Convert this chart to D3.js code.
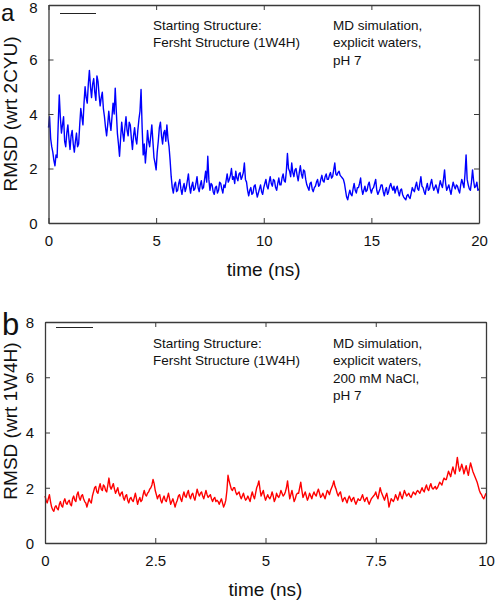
<!DOCTYPE html>
<html><head><meta charset="utf-8">
<script src="https://cdn.jsdelivr.net/npm/d3@7/dist/d3.min.js"></script>
<style>
body{margin:0;background:#fff;}
svg{display:block;font-family:"Liberation Sans",Arial,Helvetica,sans-serif;}
</style></head>
<body>
<svg id="chart" width="497" height="602"></svg>
<script>
// ---- data ----
const timeStepA = 0.05; // ns
const rmsdA = [
3.5,3.9,3.1,2.8,2.6,2.3,2.1,2.5,2.4,3.6,4.7,3.9,3.3,3.6,3.9,3.0,2.8,3.3,3.6,3.1,
2.7,3.2,3.4,2.9,2.6,3.0,3.3,2.8,2.9,3.6,4.2,3.9,3.6,4.4,5.0,4.6,4.4,5.1,5.6,5.0,
4.6,5.1,5.3,4.8,4.5,5.4,5.2,4.7,4.3,4.6,4.8,4.2,3.9,3.5,3.2,3.6,4.1,3.7,3.4,3.9,
4.4,4.0,4.95,4.1,3.3,2.9,2.45,3.1,3.7,3.3,3.0,3.5,3.9,3.4,3.2,3.7,3.6,3.1,2.7,3.2,
3.5,3.1,2.9,3.4,3.8,4.1,4.9,3.5,2.5,2.9,2.2,2.7,3.4,3.0,2.8,3.2,3.6,3.0,2.4,2.2,
1.95,2.6,3.0,3.5,3.7,3.2,2.9,3.3,3.4,3.0,3.6,3.1,2.8,2.3,1.7,1.3,1.1,1.4,1.5,1.15,
1.2,1.45,1.6,1.25,1.05,1.3,1.45,1.15,1.3,1.55,1.8,1.35,1.1,1.35,1.5,1.2,1.25,1.45,1.7,1.3,
1.15,1.4,1.55,1.25,1.3,1.6,1.9,1.5,2.45,1.6,1.2,1.45,1.4,1.15,1.05,1.3,1.35,1.1,1.2,1.5,
1.45,1.25,1.1,1.4,1.3,1.55,1.8,1.5,1.6,1.75,2.0,1.6,1.7,1.45,1.9,1.65,1.55,1.8,1.85,1.6,
1.7,1.85,2.2,1.6,1.5,1.2,1.0,1.2,1.3,1.05,1.1,1.35,1.4,1.15,0.95,1.1,1.25,1.4,1.15,1.05,
1.3,1.45,1.6,1.35,1.25,1.5,1.7,1.45,1.35,1.6,1.55,1.3,1.2,1.45,1.65,1.4,1.4,1.65,1.8,1.55,
1.5,1.9,2.55,2.0,1.9,1.7,2.2,1.85,1.7,1.95,2.0,1.75,1.55,1.85,2.1,1.8,1.65,1.95,1.9,1.6,
1.4,1.3,1.2,1.45,1.5,1.25,1.15,1.3,1.35,1.5,1.6,1.35,1.4,1.6,1.75,1.55,1.5,1.7,1.8,1.6,
1.6,1.75,1.85,1.65,1.7,1.95,2.2,1.8,1.75,1.85,1.9,1.75,1.7,1.65,1.6,1.45,1.2,0.95,0.85,1.05,
1.2,1.05,1.0,1.25,1.45,1.2,1.1,1.3,1.3,1.45,1.65,1.25,1.05,1.2,1.35,1.15,1.2,1.4,1.5,1.25,
1.1,1.25,1.3,1.45,1.6,1.2,1.05,1.15,1.25,1.4,1.4,1.15,1.0,1.2,1.3,1.05,1.15,1.35,1.45,1.3,
1.2,1.35,1.1,1.25,1.35,1.15,1.0,1.2,1.25,1.05,0.95,0.9,0.85,1.0,1.05,0.95,0.9,1.1,1.3,1.2,
1.15,1.35,1.5,1.25,1.2,1.45,1.7,1.35,1.3,1.15,1.05,1.3,1.45,1.2,1.25,1.45,1.6,1.35,1.2,1.3,
1.4,1.25,1.1,1.35,1.55,1.4,1.3,1.6,1.95,1.45,1.2,1.3,1.4,1.2,1.05,1.3,1.5,1.35,1.25,1.4,
1.35,1.2,1.1,1.4,1.6,1.45,1.3,1.8,2.5,1.6,1.4,1.25,1.2,1.5,1.95,1.55,1.3,1.35,1.5,1.2,
1.25];
const timeStepB = 0.025; // ns
const rmsdB = [
1.7,1.55,1.45,1.6,1.75,1.5,1.3,1.2,1.15,1.3,1.35,1.25,1.2,1.4,1.5,1.35,1.3,1.5,1.6,1.45,
1.4,1.5,1.55,1.4,1.35,1.6,1.7,1.55,1.5,1.75,1.85,1.65,1.55,1.7,1.75,1.6,1.5,1.45,1.3,1.45,
1.6,1.5,1.45,1.7,1.85,2.0,2.05,1.85,1.8,2.0,2.15,1.95,1.9,2.1,2.05,1.9,1.85,2.1,2.35,2.05,
1.95,2.05,2.15,1.95,1.8,1.9,2.0,1.8,1.7,1.8,1.85,1.65,1.55,1.7,1.75,1.55,1.45,1.6,1.65,1.55,
1.5,1.65,1.8,1.6,1.4,1.55,1.65,1.5,1.55,1.75,1.9,1.75,1.7,1.8,1.85,1.95,2.0,2.1,2.3,2.15,
1.9,1.75,1.6,1.7,1.75,1.55,1.45,1.6,1.7,1.55,1.5,1.65,1.8,1.6,1.4,1.5,1.6,1.45,1.3,1.45,
1.55,1.7,1.75,1.6,1.5,1.7,1.85,1.7,1.65,1.8,1.9,1.7,1.6,1.75,1.8,1.65,1.55,1.75,1.95,1.8,
1.7,1.8,1.85,1.7,1.6,1.75,1.9,1.75,1.65,1.7,1.75,1.6,1.5,1.6,1.65,1.5,1.55,1.5,1.4,1.5,
1.6,1.45,1.3,1.4,1.55,1.9,2.45,2.25,2.1,1.95,1.9,2.0,2.0,1.85,1.75,1.8,1.85,1.7,1.6,1.7,
1.8,1.65,1.55,1.6,1.7,1.6,1.5,1.7,1.85,1.7,1.6,1.8,2.0,2.1,2.25,1.95,1.7,1.8,1.9,1.7,
1.55,1.65,1.75,1.65,1.6,1.7,1.85,1.7,1.5,1.6,1.8,1.7,1.65,1.75,1.9,1.8,1.7,1.75,1.85,2.0,
2.25,1.9,1.6,1.75,1.9,1.7,1.5,1.6,1.75,1.8,1.8,2.0,2.2,1.9,1.65,1.75,1.85,1.7,1.55,1.65,
1.8,1.7,1.6,1.75,1.85,1.75,1.7,1.85,1.95,1.8,1.65,1.7,1.8,1.7,1.6,1.75,1.9,1.85,1.75,1.9,
2.0,2.1,2.25,2.05,1.95,1.8,1.7,1.8,1.85,1.65,1.5,1.6,1.65,1.55,1.45,1.6,1.7,1.6,1.5,1.6,
1.65,1.5,1.4,1.5,1.6,1.55,1.55,1.65,1.75,1.6,1.5,1.6,1.65,1.5,1.4,1.5,1.6,1.65,1.7,1.75,
1.85,1.7,1.6,1.8,2.0,1.85,1.75,1.65,1.55,1.7,1.8,1.6,1.3,1.45,1.6,1.55,1.5,1.6,1.75,1.65,
1.55,1.7,1.85,1.7,1.6,1.75,1.9,1.8,1.7,1.75,1.8,1.7,1.65,1.75,1.85,1.8,1.75,1.85,1.9,1.85,
1.8,1.9,2.0,1.9,1.85,2.0,2.1,1.95,1.9,2.05,2.15,2.0,1.95,2.0,2.05,1.95,2.0,2.1,2.2,2.15,
2.1,2.25,2.35,2.3,2.3,2.45,2.6,2.5,2.4,2.6,2.75,2.6,2.5,2.8,3.1,2.8,2.6,2.7,2.85,2.7,
2.5,2.65,2.8,2.6,2.45,2.7,2.9,2.75,2.6,2.5,2.4,2.3,2.2,2.05,1.9,1.8,1.75,1.65,1.6,1.7,
1.8];
const xTicksA = [0,5,10,15,20];
const xTickLabelsA = ["0","5","10","15","20"];
const xTicksB = [0,2.5,5,7.5,10];
const xTickLabelsB = ["0","2.5","5","7.5","10"];
const yTicks = [0,2,4,6,8];
const yTickLabels = ["0","2","4","6","8"];
const notesLeft = ["Starting Structure:","Fersht Structure (1W4H)"];
const notesRightA = ["MD simulation,","explicit waters,","pH 7"];
const notesRightB = ["MD simulation,","explicit waters,","200 mM NaCl,","pH 7"];

// ---- drawing ----
const svg = d3.select("#chart");
const frameColor = "#3a3a3a";

function panel(o){
  const g = svg.append("g");
  const x = d3.scaleLinear().domain([0,o.xmax]).range([o.left,o.right]);
  const y = d3.scaleLinear().domain([0,8]).range([o.bottom,o.top]);
  const tl = 5;
  // data line
  const pts = o.values.map((v,i)=>[i*o.step, v]);
  g.append("path").datum(pts)
    .attr("fill","none").attr("stroke",o.color).attr("stroke-width",1.4)
    .attr("stroke-linejoin","round")
    .attr("d", d3.line().x(d=>x(d[0])).y(d=>y(d[1])));
  // axes
  const fmtX = d => o.xLabels[o.xTicks.indexOf(d)];
  const fmtY = d => yTickLabels[yTicks.indexOf(d)];
  const ax = g.append("g").attr("transform",`translate(0,${o.bottom})`)
    .call(d3.axisBottom(x).tickValues(o.xTicks).tickFormat(fmtX).tickSizeInner(-tl).tickSizeOuter(0).tickPadding(12));
  const at = g.append("g").attr("transform",`translate(0,${o.top})`)
    .call(d3.axisTop(x).tickValues(o.xTicks).tickFormat("").tickSizeInner(-tl).tickSizeOuter(0));
  const ay = g.append("g").attr("transform",`translate(${o.left},0)`)
    .call(d3.axisLeft(y).tickValues(yTicks).tickFormat(fmtY).tickSizeInner(-tl).tickSizeOuter(0).tickPadding(11));
  const ar = g.append("g").attr("transform",`translate(${o.right},0)`)
    .call(d3.axisRight(y).tickValues(yTicks).tickFormat("").tickSizeInner(-tl).tickSizeOuter(0));
  [ax,at,ay,ar].forEach(a=>{
    a.select(".domain").attr("stroke",frameColor).attr("stroke-width",1.3);
    a.selectAll(".tick line").attr("stroke",frameColor);
    a.selectAll("text").attr("font-size",15).attr("fill","#111")
      .attr("font-family","'Liberation Sans',Arial,sans-serif");
  });
  ay.selectAll(".tick text").attr("dy", d => (d === 8 ? o.topLabelDy : "0.36em"));
  // axis titles
  g.append("text").attr("x",(o.left+o.right)/2).attr("y",o.xTitleY)
    .attr("text-anchor","middle").attr("font-size",19).attr("fill","#111").text("time (ns)");
  g.append("text").attr("transform",`translate(${o.yTitleX},${o.yTitleY}) rotate(-90)`)
    .attr("text-anchor","middle").attr("font-size",19).attr("fill","#111").text(o.yTitle);
  // panel letter
  g.append("text").attr("x",o.letterX).attr("y",o.letterY).attr("font-size",o.letterSize)
    .attr("fill","#111").text(o.letter);
  // legend stub line
  g.append("line").attr("x1",o.legX1).attr("x2",o.legX2).attr("y1",o.legY).attr("y2",o.legY)
    .attr("stroke","#222").attr("stroke-width",1);
  // notes
  notesLeft.forEach((t,i)=>g.append("text").attr("x",153).attr("y",o.noteY+i*17.3)
    .attr("font-size",13.5).attr("fill","#111").text(t));
  o.notesRight.forEach((t,i)=>g.append("text").attr("x",333).attr("y",o.noteY+i*17.3)
    .attr("font-size",13.5).attr("fill","#111").text(t));
}

panel({values:rmsdA, step:timeStepA, xmax:20, xTicks:xTicksA, xLabels:xTickLabelsA,
  left:48.5, right:479, top:5, bottom:223, color:"#0000ff", topLabelDy:"0.5em",
  xTitleY:276, yTitleX:17, yTitleY:114, yTitle:"RMSD (wrt 2CYU)",
  letter:"a", letterX:1, letterY:21, letterSize:24,
  legX1:60, legX2:96, legY:13.5, noteY:30, notesRight:notesRightA});

panel({values:rmsdB, step:timeStepB, xmax:10, xTicks:xTicksB, xLabels:xTickLabelsB,
  left:45, right:486, top:322, bottom:543, color:"#ff0000", topLabelDy:"0.36em",
  xTitleY:596, yTitleX:17, yTitleY:421, yTitle:"RMSD (wrt 1W4H)",
  letter:"b", letterX:2, letterY:335, letterSize:31,
  legX1:56, legX2:93, legY:327.5, noteY:348, notesRight:notesRightB});
</script>
</body></html>
